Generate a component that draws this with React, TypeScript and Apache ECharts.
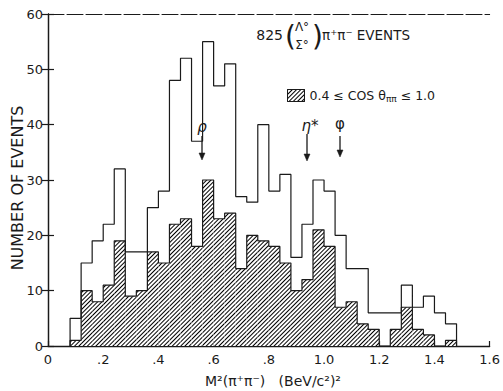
import React, { useEffect, useRef } from 'react';
import * as echarts from 'echarts';

// Histogram bins (lower edges, BeV^2), width 0.04
const binWidth = 0.04;
const binStarts = [
  0.08, 0.12, 0.16, 0.2, 0.24, 0.28, 0.32, 0.36, 0.4, 0.44, 0.48, 0.52, 0.56, 0.6, 0.64, 0.68, 0.72, 0.76,
  0.8, 0.84, 0.88, 0.92, 0.96, 1.0, 1.04, 1.08, 1.12, 1.16, 1.2, 1.24, 1.28, 1.32, 1.36, 1.4, 1.44,
];
// All 825 events (open histogram)
const allEvents = [
  5, 15, 19, 22, 32, 17, 17, 25, 28, 48, 52, 37, 55, 47, 51, 27, 26, 40,
  28, 31, 16, 22, 30, 28, 20, 14, 14, 6, 6, 6, 11, 7, 9, 6, 4,
];
// 0.4 <= cos theta_pipi <= 1.0 (hatched histogram)
const cosCutEvents = [
  1, 10, 8, 11, 19, 9, 10, 17, 15, 22, 23, 18, 30, 23, 24, 14, 20, 19,
  18, 15, 10, 12, 21, 18, 7, 8, 4, 3, 0, 3, 7, 3, 2, 0, 1,
];
const xTickValues = [0, 0.2, 0.4, 0.6, 0.8, 1.0, 1.2, 1.4, 1.6];
const yTickValues = [0, 10, 20, 30, 40, 50, 60];

const FONT = '"DejaVu Sans", "Liberation Sans", sans-serif';
const INK = '#1a1a1a';

function stepOutline(counts: number[]) {
  const pts: number[][] = [[binStarts[0], 0]];
  binStarts.forEach((s, i) => pts.push([+(s + binWidth).toFixed(2), counts[i]]));
  const last = +(binStarts[binStarts.length - 1] + binWidth).toFixed(2);
  pts.push([last, 0]);
  return pts;
}

function xLabel(v: number) {
  if (v === 0) return '0';
  if (v < 1) return '.' + Math.round(v * 10);
  return v.toFixed(1);
}

function arrow(x: number, y1: number, y2: number) {
  return {
    type: 'group',
    children: [
      { type: 'line', shape: { x1: x, y1, x2: x, y2: y2 - 5 }, style: { stroke: INK, lineWidth: 1.3 } },
      {
        type: 'polygon',
        shape: { points: [[x - 3, y2 - 7], [x + 3, y2 - 7], [x, y2]] },
        style: { fill: INK, stroke: INK, lineWidth: 0.5 },
      },
    ],
  };
}

export default function App() {
  const ref = useRef<HTMLDivElement>(null);
  useEffect(() => {
    if (!ref.current) return;
    const chart = echarts.init(ref.current, undefined, { renderer: 'svg' });
    const nBins = Math.round(xTickValues[xTickValues.length - 1] / binWidth);
    const axisBins = Array.from({ length: nBins }, (_, i) => +(i * binWidth).toFixed(2));
    const barData = axisBins.map((b) => {
      const idx = binStarts.findIndex((s) => Math.abs(s - b) < 1e-6);
      return idx >= 0 ? cosCutEvents[idx] : '-';
    });
    const cutName = 'cut';
    chart.setOption({
      animation: false,
      backgroundColor: '#fff',
      grid: { left: 48, right: 5, top: 14, bottom: 45, containLabel: false },
      xAxis: [
        {
          type: 'value', min: 0, max: 1.6, interval: 0.2, position: 'bottom',
          axisLine: { lineStyle: { color: INK, width: 1.3 } },
          axisTick: { inside: true, length: 5, lineStyle: { color: INK, width: 1.2 } },
          axisLabel: { formatter: xLabel, color: INK, fontSize: 13, fontFamily: FONT, margin: 7 },
          splitLine: { show: false },
        },
        { type: 'category', data: axisBins, show: false, boundaryGap: true },
        {
          type: 'value', min: 0, max: 1.6, position: 'top',
          axisLine: { show: true, lineStyle: { color: INK, width: 1, type: [16, 3] } },
          axisTick: { show: false }, axisLabel: { show: false }, splitLine: { show: false },
        },
      ],
      yAxis: [
        {
          type: 'value', min: 0, max: 60, interval: 10, position: 'left',
          axisLine: { show: true, lineStyle: { color: INK, width: 1.3 } },
          axisTick: { show: true, inside: true, length: 6, lineStyle: { color: INK, width: 1.2 } },
          axisLabel: { color: INK, fontSize: 13, fontFamily: FONT, margin: 5,
            formatter: (v: number) => (yTickValues.includes(v) ? String(v) : '') },
          splitLine: { show: false },
        },
        {
          type: 'value', min: 0, max: 60, interval: 10, position: 'right',
          axisLine: { show: true, lineStyle: { color: INK, width: 1.2 } },
          axisTick: { show: true, inside: true, length: 6, lineStyle: { color: INK, width: 1.2 } },
          axisLabel: { show: false }, splitLine: { show: false },
        },
      ],
      legend: {
        data: [cutName], left: 282, top: 84, icon: 'rect', itemWidth: 17, itemHeight: 12, itemGap: 6,
        itemStyle: { borderColor: INK, borderWidth: 1 },
        formatter: () => '0.4 ≤ COS θ{s|ππ} ≤ 1.0',
        textStyle: {
          color: INK, fontSize: 12.5, fontFamily: FONT,
          rich: { s: { fontSize: 9, fontFamily: FONT, color: INK, padding: [7, 0, 0, 0] } },
        },
      },
      series: [
        {
          name: cutName, type: 'bar', xAxisIndex: 1, yAxisIndex: 0, data: barData,
          barCategoryGap: '0%', barGap: '0%',
          itemStyle: {
            color: '#fff',
            decal: {
              symbol: 'rect', symbolSize: 1, color: '#000',
              dashArrayX: [1, 0], dashArrayY: [1, 2], rotation: -Math.PI / 4,
            },
          },
        },
        {
          type: 'line', xAxisIndex: 0, yAxisIndex: 0, step: 'start', symbol: 'none',
          data: stepOutline(cosCutEvents), lineStyle: { color: INK, width: 1.2 }, z: 4,
        },
        {
          type: 'line', xAxisIndex: 0, yAxisIndex: 0, step: 'start', symbol: 'none',
          data: stepOutline(allEvents), lineStyle: { color: INK, width: 1.2 }, z: 5,
        },
      ],
      graphic: [
        { type: 'text', x: 17, y: 188, rotation: Math.PI / 2,
          style: { text: 'NUMBER OF EVENTS', font: `16px ${FONT}`, fill: INK, align: 'center', verticalAlign: 'middle' } },
        { type: 'text', x: 273, y: 381,
          style: { text: 'M²(π⁺π⁻)   (BeV/c²)²', font: `14px ${FONT}`, fill: INK, align: 'center', verticalAlign: 'middle' } },
        { type: 'text', x: 283, y: 35,
          style: { text: '825', font: `14px ${FONT}`, fill: INK, align: 'right', verticalAlign: 'middle' } },
        { type: 'text', x: 285, y: 36,
          style: { text: '(', font: `28px ${FONT}`, fill: INK, align: 'left', verticalAlign: 'middle' } },
        { type: 'text', x: 302, y: 27,
          style: { text: 'Λ°', font: `12px ${FONT}`, fill: INK, align: 'center', verticalAlign: 'middle' } },
        { type: 'text', x: 302, y: 45,
          style: { text: 'Σ°', font: `12px ${FONT}`, fill: INK, align: 'center', verticalAlign: 'middle' } },
        { type: 'text', x: 312, y: 36,
          style: { text: ')', font: `28px ${FONT}`, fill: INK, align: 'left', verticalAlign: 'middle' } },
        { type: 'text', x: 322, y: 35,
          style: { text: 'π⁺π⁻ EVENTS', font: `13.5px ${FONT}`, fill: INK, align: 'left', verticalAlign: 'middle' } },
        { type: 'text', x: 202, y: 127,
          style: { text: 'ρ', font: `italic 15px ${FONT}`, fill: INK, align: 'center', verticalAlign: 'middle' } },
        { type: 'text', x: 310, y: 126,
          style: { text: 'η*', font: `italic 15px ${FONT}`, fill: INK, align: 'center', verticalAlign: 'middle' } },
        { type: 'text', x: 340, y: 124,
          style: { text: 'φ', font: `15px ${FONT}`, fill: INK, align: 'center', verticalAlign: 'middle' } },
        arrow(202, 136, 160),
        arrow(307, 134, 161),
        arrow(340, 136, 157),
      ],
    });
    return () => chart.dispose();
  }, []);
  return <div ref={ref} style={{ width: 503, height: 391, position: 'absolute', left: 0, top: 0 }} />;
}
